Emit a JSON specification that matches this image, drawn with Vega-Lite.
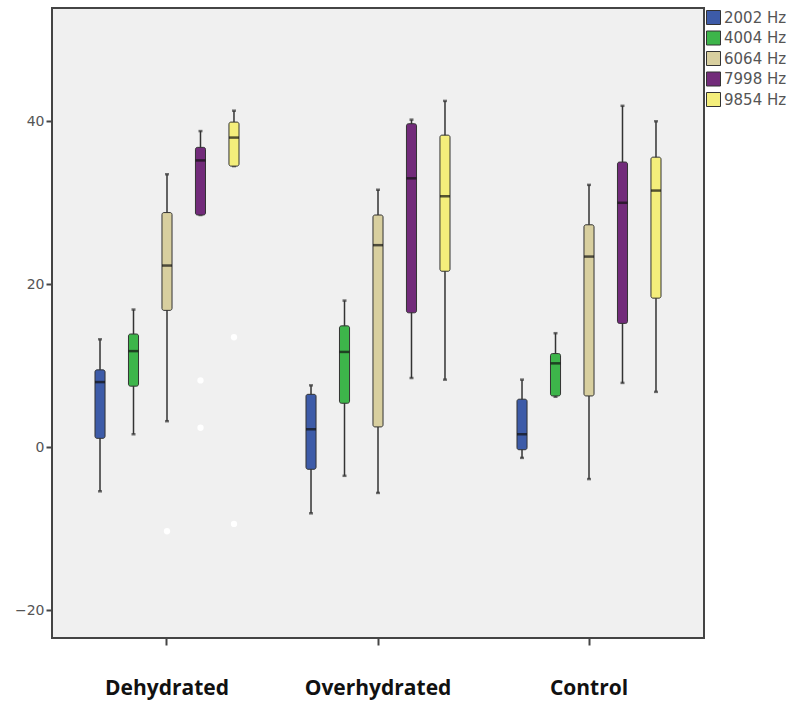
{
  "$schema": "https://vega.github.io/schema/vega-lite/v6.json",
  "autosize": {"type": "none"},
  "width": 652,
  "height": 630,
  "padding": {"left": 52, "top": 8, "right": 92, "bottom": 68},
  "background": "white",
  "config": {
    "view": {"fill": "#F0F0F0", "stroke": "#444444", "strokeWidth": 2},
    "axis": {"grid": false}
  },
  "datasets": {
    "boxes": [
      {"group": "Dehydrated", "freq": "2002 Hz", "lower": -5.4, "q1": 1.1, "median": 8.0, "q3": 9.5, "upper": 13.25},
      {"group": "Dehydrated", "freq": "4004 Hz", "lower": 1.6, "q1": 7.5, "median": 11.8, "q3": 13.9, "upper": 16.9},
      {"group": "Dehydrated", "freq": "6064 Hz", "lower": 3.2, "q1": 16.8, "median": 22.3, "q3": 28.8, "upper": 33.5},
      {"group": "Dehydrated", "freq": "7998 Hz", "lower": 28.5, "q1": 28.5, "median": 35.2, "q3": 36.8, "upper": 38.8},
      {"group": "Dehydrated", "freq": "9854 Hz", "lower": 34.5, "q1": 34.5, "median": 38.0, "q3": 39.9, "upper": 41.3},
      {"group": "Overhydrated", "freq": "2002 Hz", "lower": -8.1, "q1": -2.7, "median": 2.2, "q3": 6.5, "upper": 7.6},
      {"group": "Overhydrated", "freq": "4004 Hz", "lower": -3.5, "q1": 5.4, "median": 11.7, "q3": 14.9, "upper": 18.0},
      {"group": "Overhydrated", "freq": "6064 Hz", "lower": -5.6, "q1": 2.5, "median": 24.8, "q3": 28.5, "upper": 31.6},
      {"group": "Overhydrated", "freq": "7998 Hz", "lower": 8.5, "q1": 16.5, "median": 33.0, "q3": 39.7, "upper": 40.2},
      {"group": "Overhydrated", "freq": "9854 Hz", "lower": 8.3, "q1": 21.6, "median": 30.8, "q3": 38.3, "upper": 42.5},
      {"group": "Control", "freq": "2002 Hz", "lower": -1.3, "q1": -0.3, "median": 1.6, "q3": 5.9, "upper": 8.3},
      {"group": "Control", "freq": "4004 Hz", "lower": 6.2, "q1": 6.3, "median": 10.3, "q3": 11.5, "upper": 14.0},
      {"group": "Control", "freq": "6064 Hz", "lower": -3.9, "q1": 6.3, "median": 23.4, "q3": 27.3, "upper": 32.2},
      {"group": "Control", "freq": "7998 Hz", "lower": 7.9, "q1": 15.2, "median": 30.0, "q3": 35.0, "upper": 41.9},
      {"group": "Control", "freq": "9854 Hz", "lower": 6.8, "q1": 18.3, "median": 31.5, "q3": 35.6, "upper": 40.0}
    ],
    "outliers": [
      {"group": "Dehydrated", "freq": "6064 Hz", "value": -10.3},
      {"group": "Dehydrated", "freq": "7998 Hz", "value": 8.2},
      {"group": "Dehydrated", "freq": "7998 Hz", "value": 2.4},
      {"group": "Dehydrated", "freq": "9854 Hz", "value": 13.5},
      {"group": "Dehydrated", "freq": "9854 Hz", "value": -9.4}
    ]
  },
  "encoding": {
    "x": {
      "field": "group", "type": "nominal",
      "sort": ["Dehydrated", "Overhydrated", "Control"],
      "scale": {"paddingInner": 0, "paddingOuter": 0.045},
      "axis": {
        "title": null, "domain": false, "ticks": true, "tickSize": 7, "tickWidth": 2, "tickColor": "#444444",
        "labelAngle": 0, "labelFont": "Open Sans", "labelFontWeight": "bold", "labelFontSize": 21,
        "labelColor": "#111111", "labelPadding": 32
      }
    },
    "xOffset": {
      "field": "freq", "type": "nominal",
      "sort": ["2002 Hz", "4004 Hz", "6064 Hz", "7998 Hz", "9854 Hz"],
      "scale": {"paddingInner": 0.7, "paddingOuter": 1.03}
    }
  },
  "layer": [
    {
      "data": {"name": "boxes"},
      "mark": {"type": "rule", "color": "#333333", "strokeWidth": 1.5},
      "encoding": {
        "y": {
          "field": "lower", "type": "quantitative",
          "scale": {"domain": [-23.4, 53.9], "nice": false, "zero": false},
          "axis": {
            "title": null, "values": [-20, 0, 20, 40], "domain": false, "tickSize": 6, "tickWidth": 2,
            "tickColor": "#444444", "labelFont": "DejaVu Sans", "labelFontSize": 14,
            "labelColor": "#555555", "labelPadding": 2
          }
        },
        "y2": {"field": "upper"}
      }
    },
    {
      "data": {"name": "boxes"},
      "mark": {"type": "tick", "color": "#333333", "size": 4, "thickness": 2.5},
      "encoding": {"y": {"field": "upper", "type": "quantitative"}}
    },
    {
      "data": {"name": "boxes"},
      "mark": {"type": "tick", "color": "#333333", "size": 4, "thickness": 2.5},
      "encoding": {"y": {"field": "lower", "type": "quantitative"}}
    },
    {
      "data": {"name": "boxes"},
      "mark": {"type": "bar", "stroke": "#333333", "strokeWidth": 1, "cornerRadius": 2, "opacity": 1},
      "encoding": {
        "y": {"field": "q1", "type": "quantitative"},
        "y2": {"field": "q3"},
        "color": {
          "field": "freq", "type": "nominal",
          "scale": {
            "domain": ["2002 Hz", "4004 Hz", "6064 Hz", "7998 Hz", "9854 Hz"],
            "range": ["#3D5BA8", "#3DB54A", "#D8CF9F", "#722B7A", "#F4EE7B"]
          },
          "legend": {
            "title": null, "orient": "none", "legendX": 654, "legendY": 2,
            "symbolType": "square", "symbolSize": 196, "symbolStrokeColor": "#333333",
            "symbolStrokeWidth": 1, "symbolOpacity": 1, "labelFont": "DejaVu Sans",
            "labelFontSize": 15, "labelColor": "#555555", "rowPadding": 1.5, "labelOffset": 3,
            "labelLimit": 90
          }
        }
      }
    },
    {
      "data": {"name": "boxes"},
      "mark": {"type": "tick", "color": "#111111", "size": 10, "thickness": 2.5},
      "encoding": {"y": {"field": "median", "type": "quantitative"}}
    },
    {
      "data": {"name": "outliers"},
      "mark": {"type": "point", "filled": true, "color": "white", "size": 40, "opacity": 0.95},
      "encoding": {"y": {"field": "value", "type": "quantitative"}}
    }
  ]
}
